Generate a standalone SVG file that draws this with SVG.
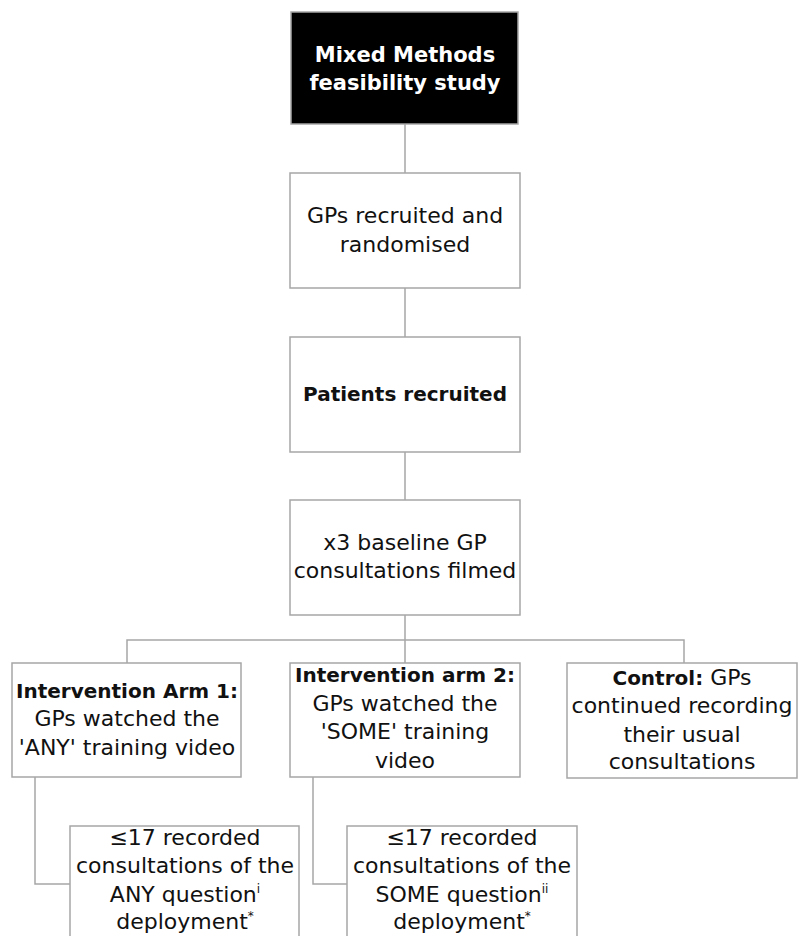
<svg xmlns="http://www.w3.org/2000/svg" width="799" height="936" viewBox="0 0 799 936">
<style>
.box{fill:#ffffff;stroke:#a6a6a6;stroke-width:1.5}
.dark{fill:#000000;stroke:#a6a6a6;stroke-width:1.5}
.conn{fill:none;stroke:#a6a6a6;stroke-width:1.5}
text{font-family:"DejaVu Sans","Liberation Sans",sans-serif;font-size:22px;fill:#111111;text-anchor:middle}
.b{font-weight:bold;font-size:20px}
.title{font-weight:bold;font-size:21px;fill:#ffffff}
.sup{font-size:12px}
</style>
<rect width="799" height="936" fill="#ffffff"/>
<g id="connectors">
<path class="conn" d="M405,124V173"/>
<path class="conn" d="M405,288V337"/>
<path class="conn" d="M405,452V500"/>
<path class="conn" d="M405,615V663"/>
<path class="conn" d="M127,663V640H684V663"/>
<path class="conn" d="M35,777V884H70"/>
<path class="conn" d="M313,777V884H347"/>
</g>
<g id="study">
<rect class="dark" x="291" y="12" width="227" height="112"/>
<text class="title" x="405" y="62">Mixed Methods</text>
<text class="title" x="405" y="90">feasibility study</text>
</g>
<g id="gps">
<rect class="box" x="290" y="173" width="230" height="115"/>
<text x="405" y="223">GPs recruited and</text>
<text x="405" y="252">randomised</text>
</g>
<g id="patients">
<rect class="box" x="290" y="337" width="230" height="115"/>
<text class="b" x="405" y="401">Patients recruited</text>
</g>
<g id="baseline">
<rect class="box" x="290" y="500" width="230" height="115"/>
<text x="405" y="550">x3 baseline GP</text>
<text x="405" y="578">consultations filmed</text>
</g>
<g id="arm1">
<rect class="box" x="12" y="663" width="229" height="114"/>
<text class="b" x="127" y="698">Intervention Arm 1:</text>
<text x="127" y="726">GPs watched the</text>
<text x="127" y="755">'ANY' training video</text>
</g>
<g id="arm2">
<rect class="box" x="290" y="663" width="230" height="114"/>
<text class="b" x="405" y="682">Intervention arm 2:</text>
<text x="405" y="711">GPs watched the</text>
<text x="405" y="739">'SOME' training</text>
<text x="405" y="768">video</text>
</g>
<g id="control">
<rect class="box" x="567" y="663" width="230" height="115"/>
<text x="682" y="685"><tspan font-weight="bold" font-size="20px">Control:</tspan> GPs</text>
<text x="682" y="713">continued recording</text>
<text x="682" y="742">their usual</text>
<text x="682" y="769">consultations</text>
</g>
<g id="any-recorded">
<rect class="box" x="70" y="826" width="229" height="120"/>
<text x="185" y="845">≤17 recorded</text>
<text x="185" y="873">consultations of the</text>
<text x="185" y="902">ANY question<tspan class="sup" dy="-9">i</tspan></text>
<text x="185" y="929">deployment<tspan class="sup" dy="-9">*</tspan></text>
</g>
<g id="some-recorded">
<rect class="box" x="347" y="826" width="230" height="120"/>
<text x="462" y="845">≤17 recorded</text>
<text x="462" y="873">consultations of the</text>
<text x="462" y="902">SOME question<tspan class="sup" dy="-9">ii</tspan></text>
<text x="462" y="929">deployment<tspan class="sup" dy="-9">*</tspan></text>
</g>
</svg>
